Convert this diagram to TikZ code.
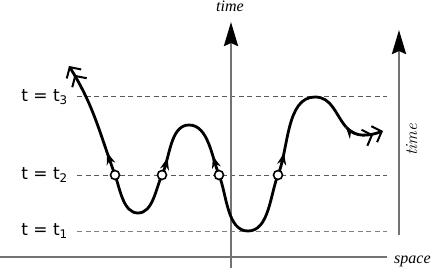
\documentclass[tikz,border=0pt]{standalone}
\usepackage{fontspec}
\usetikzlibrary{arrows.meta,decorations.markings}
\newfontfamily\labfont{DejaVu Sans}
\newfontfamily\serfont{Liberation Serif}
\begin{document}
\begin{tikzpicture}[x=1pt,y=1pt,
  axisline/.style={draw=black!55, line width=2.8pt},
  axisarrow/.style={-{Stealth[length=24pt,width=14pt,inset=3pt,color=black]}},
  dashline/.style={draw=black!65, line width=1pt, dash pattern=on 5pt off 3.5pt},
  curve/.style={draw=black, line width=2.8pt},
  ptcirc/.style={circle, draw=black, fill=white, line width=1.6pt, inner sep=0pt, minimum size=9pt},
  lab/.style={font=\labfont\fontsize{17}{19}\selectfont, inner sep=0pt, anchor=east},
  axlab/.style={font=\serfont\itshape\fontsize{16}{18}\selectfont, inner sep=0pt},
  fwd/.style={postaction={decorate}, decoration={markings, mark=at position #1 with {\arrow{Stealth[length=12pt,width=9pt]}}}},
  bwd/.style={postaction={decorate}, decoration={markings, mark=at position #1 with {\arrowreversed{Stealth[length=12pt,width=9pt]}}}}
]
\useasboundingbox (0,0) rectangle (436,268);

% axes coordinates
\coordinate (hx0) at (0,11);
\coordinate (hx1) at (387,11);
\coordinate (vb) at (231,0);
\coordinate (vt) at (231,246);
\coordinate (rb) at (399,33);
\coordinate (rt) at (399,238);

% dashed time levels
\coordinate (d3a) at (77,171); \coordinate (d3b) at (387,171);
\coordinate (d2a) at (77,93);  \coordinate (d2b) at (387,93);
\coordinate (d1a) at (77,37);  \coordinate (d1b) at (387,37);
\draw[dashline] (d3a) -- (d3b);
\draw[dashline] (d2a) -- (d2b);
\draw[dashline, draw=black!50] (d1a) -- (d1b);

% labels
\node[lab] (l3) at (68,171) {t = t\textsubscript{3}};
\node[lab] (l2) at (68,93) {t = t\textsubscript{2}};
\node[lab] (l1) at (68,37) {t = t\textsubscript{1}};

% axes
\draw[axisline] (hx0) -- (hx1);
\draw[axisline, axisarrow] (vb) -- (vt);
\draw[axisline, axisarrow] (rb) -- (rt);
\node[axlab, anchor=base] (tt) at (230,256) {time};
\node[axlab, anchor=base west] (sp) at (394,5) {space};
\node[font=\itshape\fontsize{17}{19}\selectfont, inner sep=0pt, rotate=90, anchor=base] (tr) at (417,128) {time};

% curve points
\coordinate (s) at (69,202);
\coordinate (c1) at (115,93);
\coordinate (m1) at (138,55);
\coordinate (c2) at (162,93);
\coordinate (M1) at (189,143);
\coordinate (c3) at (219,93);
\coordinate (m2) at (248,37);
\coordinate (c4) at (278,93);
\coordinate (M2) at (315,171);
\coordinate (b) at (346,141);
\coordinate (e) at (383,137);

\draw[curve, bwd=0.8, {Straight Barb[length=8pt,width=17pt,line width=2pt]Straight Barb[length=8pt,width=17pt,line width=2pt]}-] (s) to[out=-58,in=110] (c1);
\draw[curve] (c1) to[out=-70,in=180,looseness=0.85] (m1);
\draw[curve] (m1) to[out=0,in=-115,looseness=0.85] (c2);
\draw[curve, fwd=0.3] (c2) to[out=65,in=180,looseness=0.85] (M1);
\draw[curve, bwd=0.68] (M1) to[out=0,in=112,looseness=0.85] (c3);
\draw[curve] (c3) to[out=-68,in=180,looseness=0.85] (m2);
\draw[curve] (m2) to[out=0,in=-112,looseness=0.85] (c4);
\draw[curve, fwd=0.25] (c4) to[out=68,in=180,looseness=0.85] (M2);
\draw[curve, bwd=0.99] (M2) to[out=0,in=130] (b);
\draw[curve, -{Straight Barb[length=8pt,width=17pt,line width=2pt]Straight Barb[length=8pt,width=17pt,line width=2pt]}] (b) to[out=-50,in=200] (e);

\node[ptcirc] (k1) at (c1) {};
\node[ptcirc] (k2) at (c2) {};
\node[ptcirc] (k3) at (c3) {};
\node[ptcirc] (k4) at (c4) {};
\end{tikzpicture}
\end{document}
